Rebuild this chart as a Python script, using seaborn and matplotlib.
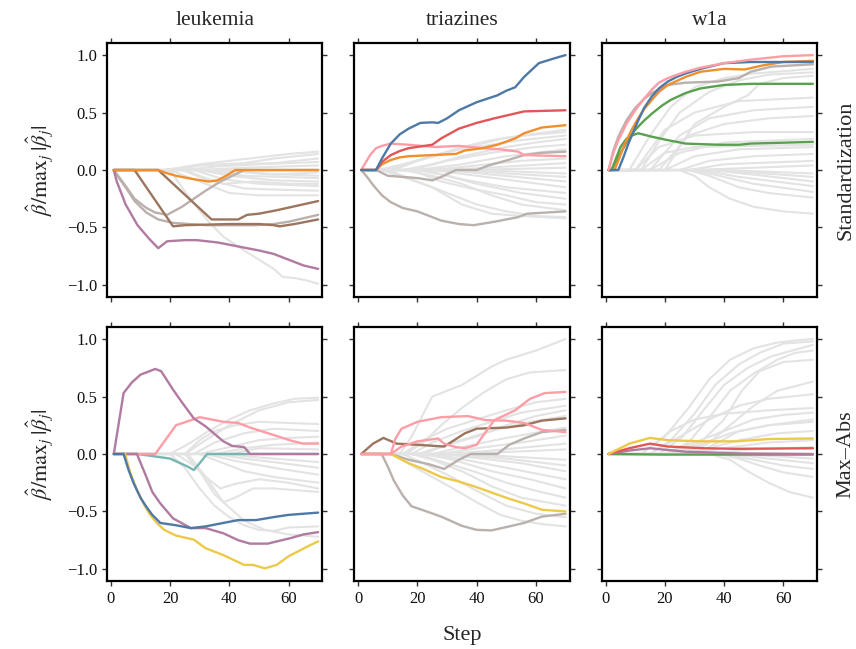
import matplotlib
matplotlib.use("Agg")
import matplotlib.pyplot as plt
import pandas as pd
import seaborn as sns

# ---------------- data ----------------
DATASETS = ["leukemia", "triazines", "w1a"]
SCHEMES = ["Standardization", "Max–Abs"]
X_TICKS = [0, 20, 40, 60]
Y_TICKS = [-1.0, -0.5, 0.0, 0.5, 1.0]
Y_LABEL = r"$\hat{\beta}/\mathrm{max}_j\,|\hat{\beta}_j|$"
X_LABEL = "Step"

# highlighted coefficient paths: (colour key, [(step, value), ...])
LEUK_STD_HL = [
    ("taupe", [(1, 0), (5, -0.14), (8, -0.25), (12, -0.33), (15, -0.37), (19, -0.39), (24, -0.32), (28, -0.25), (32, -0.18), (37, -0.1), (41, -0.05), (45, 0), (70, 0)]),
    ("taupe", [(1, 0), (3, -0.08), (5, -0.15), (8, -0.27), (12, -0.37), (16, -0.43), (21, -0.46), (32, -0.48), (49, -0.48), (55, -0.47), (60, -0.45), (70, -0.39)]),
    ("brown", [(1, 0), (8, 0), (21, -0.49), (25, -0.48), (40, -0.47), (50, -0.47), (55, -0.48), (57, -0.49), (62, -0.47), (70, -0.43)]),
    ("brown", [(1, 0), (16, 0), (34, -0.43), (43, -0.43), (46, -0.39), (50, -0.38), (56, -0.35), (63, -0.31), (70, -0.27)]),
    ("purple", [(1, 0), (2, -0.1), (5, -0.3), (9, -0.48), (13, -0.6), (16, -0.68), (17, -0.66), (19, -0.62), (25, -0.61), (29, -0.61), (36, -0.63), (44, -0.67), (50, -0.7), (55, -0.73), (58, -0.76), (62, -0.8), (65, -0.83), (70, -0.86)]),
    ("orange", [(1, 0), (16, 0), (18, -0.02), (22, -0.05), (28, -0.08), (33, -0.1), (36, -0.09), (39, -0.05), (42, 0), (70, 0)]),
]
LEUK_STD_GREY = [
    [(1, 0), (20, 0), (30, 0.05), (40, 0.08), (50, 0.11), (60, 0.14), (70, 0.16)],
    [(1, 0), (22, 0), (30, 0.04), (45, 0.06), (55, 0.1), (70, 0.14)],
    [(1, 0), (18, 0), (28, 0.04), (40, 0.05), (55, 0.06), (70, 0.1)],
    [(1, 0), (25, 0), (35, 0.03), (50, 0.05), (70, 0.07)],
    [(1, 0), (30, 0), (45, 0.02), (70, 0.04)],
    [(1, 0), (20, 0), (30, -0.1), (40, -0.2), (50, -0.22), (60, -0.22), (70, -0.22)],
    [(1, 0), (25, 0), (35, -0.1), (45, -0.16), (55, -0.17), (70, -0.18)],
    [(1, 0), (28, 0), (38, -0.08), (50, -0.12), (70, -0.14)],
    [(1, 0), (30, 0), (40, -0.05), (55, -0.09), (70, -0.1)],
    [(1, 0), (32, 0), (45, -0.05), (70, -0.07)],
    [(1, 0), (35, 0), (50, -0.03), (70, -0.05)],
    [(1, 0), (40, 0), (55, -0.04), (70, -0.02)],
    [(1, 0), (24, 0), (30, -0.06), (38, -0.12), (48, -0.1), (60, -0.12), (70, -0.12)],
    [(1, 0), (20, 0), (24, -0.15), (28, -0.29), (33, -0.45), (38, -0.58), (45, -0.7), (50, -0.78), (55, -0.86), (58, -0.93), (62, -0.94), (66, -0.96), (70, -0.99)],
]

TRIA_STD_HL = [
    ("taupe", [(1, 0), (6, 0), (10, -0.05), (20, -0.07), (25, -0.09), (28, -0.06), (33, 0), (40, 0), (44, 0.04), (51, 0.09), (56, 0.13), (62, 0.15), (70, 0.16)]),
    ("taupe", [(1, 0), (3, -0.06), (5, -0.13), (8, -0.22), (11, -0.28), (15, -0.33), (20, -0.36), (24, -0.4), (28, -0.44), (34, -0.47), (39, -0.48), (46, -0.45), (54, -0.41), (57, -0.38), (70, -0.36)]),
    ("pink", [(1, 0), (4, 0.13), (6, 0.19), (8, 0.21), (11, 0.23), (17, 0.22), (26, 0.2), (34, 0.21), (42, 0.19), (48, 0.18), (54, 0.16), (56, 0.13), (70, 0.12)]),
    ("orange", [(1, 0), (6, 0), (8, 0.05), (11, 0.087), (14, 0.11), (17, 0.12), (33, 0.14), (36, 0.17), (42, 0.19), (47, 0.22), (53, 0.275), (56, 0.32), (62, 0.37), (70, 0.39)]),
    ("red", [(1, 0), (6, 0), (8, 0.07), (11, 0.13), (14, 0.165), (17, 0.19), (25, 0.22), (28, 0.275), (34, 0.36), (40, 0.41), (46, 0.45), (51, 0.48), (56, 0.51), (70, 0.52)]),
    ("blue", [(1, 0), (6, 0), (8, 0.1), (11, 0.23), (14, 0.31), (17, 0.36), (21, 0.41), (25, 0.415), (27, 0.41), (30, 0.45), (34, 0.52), (40, 0.59), (47, 0.65), (50, 0.69), (53, 0.72), (56, 0.81), (61, 0.93), (66, 0.97), (70, 1.0)]),
]
TRIA_STD_GREY = [
    [(1, 0), (7, 0), (15, 0.05), (25, 0.12), (35, 0.2), (45, 0.26), (55, 0.3), (70, 0.35)],
    [(1, 0), (10, 0), (20, 0.08), (30, 0.15), (40, 0.22), (50, 0.28), (60, 0.31), (70, 0.33)],
    [(1, 0), (12, 0), (22, 0.1), (32, 0.17), (45, 0.22), (55, 0.26), (70, 0.3)],
    [(1, 0), (15, 0), (25, 0.05), (35, 0.12), (50, 0.2), (60, 0.24), (70, 0.27)],
    [(1, 0), (18, 0), (30, 0.08), (45, 0.15), (60, 0.2), (70, 0.22)],
    [(1, 0), (20, 0), (35, 0.05), (50, 0.12), (70, 0.18)],
    [(1, 0), (25, 0), (40, 0.04), (55, 0.08), (70, 0.1)],
    [(1, 0), (30, 0), (50, 0.03), (70, 0.06)],
    [(1, 0), (35, 0), (70, 0.02)],
    [(1, 0), (8, 0), (15, -0.06), (25, -0.15), (35, -0.3), (45, -0.38), (55, -0.4), (70, -0.42)],
    [(1, 0), (10, 0), (20, -0.1), (30, -0.2), (40, -0.3), (50, -0.36), (60, -0.4), (70, -0.41)],
    [(1, 0), (15, 0), (25, -0.05), (35, -0.12), (45, -0.22), (55, -0.3), (70, -0.35)],
    [(1, 0), (18, 0), (28, -0.1), (38, -0.16), (50, -0.22), (60, -0.28), (70, -0.3)],
    [(1, 0), (20, 0), (30, -0.05), (40, -0.12), (55, -0.2), (70, -0.25)],
    [(1, 0), (22, 0), (35, -0.08), (50, -0.15), (70, -0.2)],
    [(1, 0), (25, 0), (40, -0.05), (55, -0.1), (70, -0.15)],
    [(1, 0), (30, 0), (45, -0.04), (70, -0.1)],
    [(1, 0), (35, 0), (50, -0.03), (70, -0.06)],
    [(1, 0), (40, 0), (70, -0.03)],
]

W1A_STD_HL = [
    ("green", [(1, 0), (2, 0), (5, 0.145), (7.5, 0.26), (10, 0.35), (13, 0.43), (15.6, 0.49), (19, 0.56), (22, 0.61), (27, 0.67), (32, 0.71), (40, 0.74), (49, 0.75), (70, 0.75)]),
    ("green", [(1, 0), (2, 0), (3.5, 0.1), (5, 0.2), (7, 0.27), (8.8, 0.3), (11, 0.32), (15.6, 0.29), (21, 0.26), (27, 0.23), (38, 0.22), (45, 0.22), (49, 0.23), (70, 0.245)]),
    ("taupe", [(1, 0), (2.5, 0.16), (4.3, 0.29), (7, 0.43), (10, 0.54), (13, 0.62), (15.6, 0.67), (21, 0.74), (27, 0.76), (38, 0.77), (45, 0.8), (49, 0.855), (56, 0.9), (70, 0.92)]),
    ("orange", [(1, 0), (3, 0), (5, 0.13), (6.5, 0.23), (9, 0.36), (11, 0.45), (13, 0.53), (15.6, 0.61), (18, 0.68), (21, 0.74), (27, 0.81), (32, 0.855), (40, 0.88), (47, 0.875), (53, 0.91), (60, 0.94), (70, 0.95)]),
    ("blue", [(1, 0), (4.3, 0), (6, 0.11), (7.7, 0.23), (9.5, 0.34), (11, 0.43), (13, 0.54), (15.6, 0.64), (18, 0.71), (21, 0.77), (24, 0.81), (27, 0.84), (32, 0.88), (40, 0.93), (49, 0.94), (70, 0.94)]),
    ("pink", [(1, 0), (2.5, 0.14), (4.3, 0.26), (7, 0.4), (10, 0.52), (13, 0.62), (15.6, 0.7), (18, 0.76), (21, 0.8), (27, 0.855), (32, 0.89), (40, 0.93), (49, 0.96), (60, 0.99), (70, 1.0)]),
]
W1A_STD_GREY = [
    [(1, 0), (8, 0), (15, 0.3), (22, 0.55), (30, 0.72), (40, 0.8), (50, 0.84), (60, 0.86), (70, 0.88)],
    [(1, 0), (12, 0), (18, 0.25), (25, 0.5), (35, 0.68), (45, 0.78), (55, 0.83), (70, 0.85)],
    [(1, 0), (20, 0), (25, 0.2), (30, 0.4), (40, 0.55), (48, 0.65), (52, 0.75), (60, 0.8), (70, 0.82)],
    [(1, 0), (10, 0), (20, 0.35), (30, 0.5), (45, 0.6), (70, 0.63)],
    [(1, 0), (15, 0), (25, 0.3), (35, 0.45), (50, 0.52), (70, 0.55)],
    [(1, 0), (18, 0), (28, 0.3), (40, 0.4), (55, 0.45), (70, 0.47)],
    [(1, 0), (10, 0), (18, 0.2), (30, 0.3), (50, 0.33), (70, 0.33)],
    [(1, 0), (15, 0), (25, 0.15), (40, 0.24), (70, 0.27)],
    [(1, 0), (20, 0), (30, 0.12), (45, 0.18), (70, 0.2)],
    [(1, 0), (25, 0), (35, 0.08), (50, 0.12), (70, 0.14)],
    [(1, 0), (28, 0), (40, 0.05), (70, 0.08)],
    [(1, 0), (30, 0), (70, 0.04)],
    [(1, 0), (12, 0), (20, 0.15), (30, 0.2), (70, 0.22)],
    [(1, 0), (25, 0), (30, -0.05), (35, -0.15), (42, -0.25), (50, -0.32), (60, -0.36), (70, -0.38)],
    [(1, 0), (28, 0), (35, -0.05), (45, -0.15), (55, -0.2), (70, -0.24)],
    [(1, 0), (30, 0), (40, -0.06), (50, -0.12), (70, -0.19)],
    [(1, 0), (32, 0), (45, -0.06), (70, -0.14)],
    [(1, 0), (35, 0), (50, -0.04), (70, -0.1)],
    [(1, 0), (38, 0), (70, -0.06)],
    [(1, 0), (40, 0), (70, -0.03)],
]

LEUK_MAX_HL = [
    ("teal", [(1, 0), (9, 0), (20, -0.04), (26, -0.11), (28, -0.14), (30, -0.08), (32.5, 0), (70, 0)]),
    ("pink", [(1, 0), (15, 0), (22, 0.25), (30, 0.32), (38, 0.28), (43, 0.27), (47, 0.23), (55, 0.165), (61, 0.115), (65, 0.09), (70, 0.09)]),
    ("purple", [(1, 0), (4.3, 0.53), (7, 0.62), (10, 0.69), (15, 0.74), (17, 0.72), (21, 0.56), (24, 0.45), (28, 0.31), (32, 0.24), (38, 0.11), (41, 0.07), (45, 0.06), (47, 0), (70, 0)]),
    ("purple", [(1, 0), (8.8, 0), (12, -0.2), (14, -0.33), (16.7, -0.43), (21, -0.56), (27, -0.645), (32, -0.645), (38, -0.69), (43, -0.75), (47, -0.78), (53, -0.78), (61, -0.73), (65, -0.7), (70, -0.68)]),
    ("yellow", [(1, 0), (4.8, 0), (6.5, -0.16), (8.8, -0.31), (11, -0.43), (13, -0.52), (15.5, -0.6), (18, -0.66), (22, -0.71), (28, -0.745), (32, -0.82), (38, -0.88), (45, -0.965), (48, -0.965), (52, -0.995), (56, -0.965), (60, -0.89), (66, -0.81), (70, -0.76)]),
    ("blue", [(1, 0), (4.3, 0), (6, -0.14), (7.7, -0.255), (10, -0.38), (12, -0.46), (14, -0.53), (16.7, -0.6), (22, -0.62), (27, -0.645), (32, -0.63), (38, -0.6), (43, -0.575), (49, -0.575), (56, -0.545), (60, -0.53), (70, -0.51)]),
]
LEUK_MAX_GREY = [
    [(1, 0), (20, 0), (27, 0.1), (33, 0.2), (40, 0.3), (47, 0.38), (55, 0.44), (62, 0.48), (70, 0.49)],
    [(1, 0), (25, 0), (32, 0.12), (40, 0.25), (50, 0.38), (60, 0.45), (70, 0.47)],
    [(1, 0), (25, 0), (30, 0.12), (35, 0.2), (42, 0.25), (50, 0.28), (60, 0.27), (70, 0.26)],
    [(1, 0), (28, 0), (35, 0.1), (45, 0.18), (55, 0.22), (70, 0.2)],
    [(1, 0), (30, 0), (40, 0.06), (50, 0.12), (60, 0.14), (70, 0.15)],
    [(1, 0), (35, 0), (45, 0.05), (55, 0.08), (70, 0.1)],
    [(1, 0), (40, 0), (50, 0.05), (70, 0.04)],
    [(1, 0), (20, 0), (25, -0.12), (30, -0.3), (35, -0.45), (40, -0.55), (45, -0.62), (50, -0.66), (55, -0.67), (60, -0.64), (70, -0.63)],
    [(1, 0), (22, 0), (28, -0.1), (33, -0.22), (37, -0.3), (42, -0.26), (50, -0.22), (60, -0.25), (70, -0.3)],
    [(1, 0), (25, 0), (30, -0.15), (35, -0.35), (38, -0.42), (42, -0.38), (48, -0.3), (55, -0.3), (70, -0.33)],
    [(1, 0), (26, 0), (32, -0.2), (38, -0.42), (45, -0.58), (52, -0.66), (60, -0.7), (70, -0.72)],
    [(1, 0), (30, 0), (38, -0.08), (45, -0.15), (55, -0.2), (70, -0.25)],
    [(1, 0), (32, 0), (42, -0.06), (55, -0.12), (70, -0.18)],
    [(1, 0), (35, 0), (45, -0.04), (58, -0.08), (70, -0.12)],
    [(1, 0), (38, 0), (50, -0.03), (70, -0.07)],
]

TRIA_MAX_HL = [
    ("taupe", [(1, 0), (11, 0), (17, -0.05), (24, -0.09), (29, -0.13), (34, -0.05), (38, 0), (47, 0), (51, 0.08), (56, 0.135), (62, 0.19), (70, 0.21)]),
    ("taupe", [(1, 0), (7.9, 0), (10, -0.11), (12, -0.23), (15, -0.36), (18, -0.455), (22, -0.49), (28, -0.545), (35, -0.625), (40, -0.66), (45, -0.665), (51, -0.63), (56, -0.6), (62, -0.545), (70, -0.52)]),
    ("yellow", [(1, 0), (11, 0), (17, -0.08), (22, -0.13), (28, -0.2), (34, -0.24), (39, -0.28), (45, -0.335), (51, -0.39), (56, -0.43), (62, -0.485), (70, -0.5)]),
    ("brown", [(1, 0), (5, 0.09), (8.5, 0.14), (13, 0.09), (20, 0.08), (29, 0.065), (33, 0.13), (36, 0.18), (40, 0.22), (50, 0.23), (56, 0.25), (62, 0.29), (70, 0.31)]),
    ("pink", [(1, 0), (11, 0), (12.5, 0.13), (14.6, 0.22), (20, 0.28), (28, 0.32), (37, 0.33), (43, 0.295), (50, 0.29), (56, 0.27), (62, 0.21), (70, 0.19)]),
    ("pink", [(1, 0), (11, 0), (14.6, 0.065), (20, 0.11), (27, 0.135), (29, 0.09), (33, 0.06), (36, 0.05), (40, 0.08), (43, 0.19), (46, 0.295), (53, 0.38), (58, 0.48), (63, 0.53), (70, 0.54)]),
]
TRIA_MAX_GREY = [
    [(1, 0), (14, 0), (18, 0.15), (22, 0.35), (25, 0.5), (30, 0.55), (35, 0.6), (40, 0.68), (45, 0.76), (50, 0.82), (55, 0.86), (60, 0.9), (65, 0.95), (70, 1.0)],
    [(1, 0), (16, 0), (22, 0.1), (28, 0.25), (35, 0.4), (42, 0.53), (50, 0.65), (58, 0.71), (70, 0.73)],
    [(1, 0), (15, 0), (22, 0.12), (30, 0.22), (40, 0.3), (50, 0.38), (60, 0.45), (70, 0.48)],
    [(1, 0), (18, 0), (25, 0.1), (35, 0.2), (45, 0.28), (55, 0.36), (70, 0.42)],
    [(1, 0), (20, 0), (30, 0.08), (40, 0.15), (50, 0.25), (60, 0.33), (70, 0.38)],
    [(1, 0), (22, 0), (32, 0.1), (45, 0.2), (58, 0.28), (70, 0.33)],
    [(1, 0), (25, 0), (35, 0.06), (50, 0.14), (70, 0.23)],
    [(1, 0), (28, 0), (40, 0.05), (55, 0.1), (70, 0.16)],
    [(1, 0), (30, 0), (45, 0.03), (70, 0.09)],
    [(1, 0), (35, 0), (70, 0.04)],
    [(1, 0), (12, 0), (18, -0.1), (25, -0.2), (32, -0.3), (40, -0.42), (48, -0.53), (55, -0.58), (62, -0.61), (70, -0.63)],
    [(1, 0), (15, 0), (22, -0.08), (30, -0.18), (40, -0.32), (50, -0.45), (60, -0.52), (70, -0.55)],
    [(1, 0), (18, 0), (25, -0.05), (35, -0.15), (45, -0.28), (55, -0.38), (70, -0.45)],
    [(1, 0), (20, 0), (30, -0.08), (40, -0.16), (50, -0.25), (60, -0.32), (70, -0.38)],
    [(1, 0), (22, 0), (32, -0.05), (45, -0.15), (58, -0.22), (70, -0.3)],
    [(1, 0), (25, 0), (38, -0.06), (50, -0.12), (70, -0.22)],
    [(1, 0), (28, 0), (42, -0.04), (55, -0.08), (70, -0.15)],
    [(1, 0), (32, 0), (50, -0.04), (70, -0.1)],
    [(1, 0), (36, 0), (70, -0.05)],
]

W1A_MAX_HL = [
    ("green", [(1, 0), (20, -0.005), (70, -0.005)]),
    ("purple", [(1, 0), (8, 0.03), (15, 0.05), (27, 0.02), (45, 0.005), (70, 0)]),
    ("red", [(1, 0), (8, 0.05), (15, 0.09), (21, 0.065), (33, 0.05), (44, 0.045), (70, 0.05)]),
    ("yellow", [(1, 0), (8, 0.09), (15, 0.14), (21, 0.12), (33, 0.11), (44, 0.11), (55, 0.13), (70, 0.135)]),
]
W1A_MAX_GREY = [
    [(1, 0), (12, 0), (20, 0.15), (28, 0.4), (35, 0.65), (42, 0.82), (50, 0.92), (58, 0.97), (65, 0.99), (70, 1.0)],
    [(1, 0), (15, 0), (22, 0.12), (30, 0.35), (37, 0.6), (45, 0.78), (52, 0.88), (60, 0.96), (70, 0.98)],
    [(1, 0), (18, 0), (26, 0.15), (33, 0.38), (40, 0.6), (48, 0.75), (56, 0.85), (63, 0.9), (70, 0.95)],
    [(1, 0), (20, 0), (28, 0.1), (36, 0.35), (42, 0.55), (50, 0.7), (58, 0.82), (64, 0.88), (70, 0.9)],
    [(1, 0), (22, 0), (32, 0.1), (40, 0.3), (46, 0.55), (52, 0.72), (60, 0.8), (70, 0.82)],
    [(1, 0), (25, 0), (34, 0.08), (42, 0.25), (50, 0.42), (58, 0.55), (70, 0.63)],
    [(1, 0), (12, 0), (22, 0.2), (30, 0.3), (40, 0.35), (55, 0.38), (70, 0.4)],
    [(1, 0), (15, 0), (25, 0.15), (35, 0.3), (45, 0.42), (55, 0.48), (70, 0.52)],
    [(1, 0), (20, 0), (30, 0.1), (40, 0.2), (50, 0.3), (60, 0.34), (70, 0.36)],
    [(1, 0), (22, 0), (32, 0.08), (42, 0.18), (55, 0.25), (70, 0.28)],
    [(1, 0), (25, 0), (35, 0.05), (45, 0.12), (58, 0.18), (70, 0.2)],
    [(1, 0), (28, 0), (40, 0.05), (55, 0.1), (70, 0.12)],
    [(1, 0), (32, 0), (50, 0.04), (70, 0.06)],
    [(1, 0), (30, 0), (38, 0.1), (45, 0.2), (55, 0.25), (70, 0.3)],
    [(1, 0), (35, 0), (42, -0.05), (48, -0.15), (55, -0.25), (62, -0.33), (70, -0.38)],
    [(1, 0), (38, 0), (45, -0.04), (52, -0.1), (60, -0.16), (70, -0.2)],
    [(1, 0), (40, 0), (50, -0.05), (60, -0.1), (70, -0.13)],
    [(1, 0), (42, 0), (55, -0.04), (70, -0.08)],
    [(1, 0), (45, 0), (70, -0.04)],
]

PANELS = [
    [(LEUK_STD_GREY, LEUK_STD_HL), (TRIA_STD_GREY, TRIA_STD_HL), (W1A_STD_GREY, W1A_STD_HL)],
    [(LEUK_MAX_GREY, LEUK_MAX_HL), (TRIA_MAX_GREY, TRIA_MAX_HL), (W1A_MAX_GREY, W1A_MAX_HL)],
]

# ---------------- style ----------------
COLORS = {
    "blue": "#4e79a7", "orange": "#f28e2b", "red": "#e15759", "teal": "#76b7b2",
    "green": "#59a14f", "yellow": "#edc948", "purple": "#b07aa1", "pink": "#ff9da7",
    "brown": "#9c755f", "taupe": "#bab0ac",
}
GREY = "#e3e3e3"

sns.set_theme(style="ticks")
plt.rcParams["font.family"] = ["Liberation Serif", "DejaVu Serif"]
plt.rcParams["mathtext.fontset"] = "stix"
plt.rcParams["axes.linewidth"] = 1.6
plt.rcParams["axes.edgecolor"] = "black"
for ax_ in ("xtick", "ytick"):
    plt.rcParams[f"{ax_}.direction"] = "out"
    plt.rcParams[f"{ax_}.major.size"] = 3.5
    plt.rcParams[f"{ax_}.major.width"] = 1.0
    plt.rcParams[f"{ax_}.color"] = "#333333"
    plt.rcParams[f"{ax_}.labelcolor"] = "#111111"
    plt.rcParams[f"{ax_}.labelsize"] = 12


def to_frame(paths):
    rows = []
    for i, pts in enumerate(paths):
        for s, v in pts:
            rows.append({"path": i, "step": s, "value": v})
    return pd.DataFrame(rows)


fig, axes = plt.subplots(2, 3, figsize=(8.56, 6.49), dpi=100, sharex=True, sharey=True)
fig.subplots_adjust(left=0.125, right=0.9545, top=0.9337, bottom=0.1048,
                    wspace=0.149, hspace=0.118)

for r in range(2):
    for c in range(3):
        ax = axes[r, c]
        grey, hl = PANELS[r][c]
        gdf = to_frame(grey)
        sns.lineplot(data=gdf, x="step", y="value", units="path", estimator=None,
                     sort=False, color=GREY, lw=1.5, ax=ax, legend=False)
        hdf = to_frame([pts for _, pts in hl])
        pal = {i: COLORS[k] for i, (k, _) in enumerate(hl)}
        sns.lineplot(data=hdf, x="step", y="value", hue="path", palette=pal,
                     estimator=None, sort=False, lw=1.7, ax=ax, legend=False)
        ax.set_xlim(-1.3, 71.4)
        ax.set_ylim(-1.105, 1.105)
        ax.set_xticks(X_TICKS)
        ax.set_yticks(Y_TICKS)
        ax.tick_params(top=True, right=True, labeltop=False, labelright=False)
        ax.set_xlabel("")
        ax.set_ylabel("")
        for sp in ax.spines.values():
            sp.set_visible(True)
            sp.set_linewidth(1.6)
        if r == 0:
            ax.set_title(DATASETS[c], fontsize=15.5, pad=13)
        if c == 0:
            ax.set_ylabel(Y_LABEL, fontsize=16, labelpad=9)
        if c == 2:
            ax.text(1.09, 0.5, SCHEMES[r], transform=ax.transAxes, rotation=90,
                    va="center", ha="left", fontsize=16)

axes[1, 1].set_xlabel(X_LABEL, fontsize=16, labelpad=14)

fig.savefig("out.png", dpi=100)
